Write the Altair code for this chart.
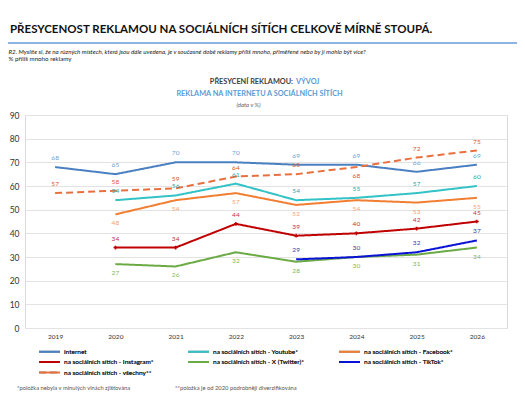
import altair as alt
import pandas as pd

FONT = "Lato"

years = [2019, 2020, 2021, 2022, 2023, 2024, 2025, 2026]
series_names = [
    "internet",
    "na sociálních sítích - Youtube*",
    "na sociálních sítích - Facebook*",
    "na sociálních sítích - Instagram*",
    "na sociálních sítích - X (Twitter)*",
    "na sociálních sítích - TikTok*",
    "na sociálních sítích - všechny**",
]
internet = [68, 65, 70, 70, 69, 69, 66, 69]
youtube = [None, 54, 56, 61, 54, 55, 57, 60]
facebook = [None, 48, 54, 57, 52, 54, 53, 55]
instagram = [None, 34, 34, 44, 39, 40, 42, 45]
twitter = [None, 27, 26, 32, 28, 30, 31, 34]
tiktok = [None, None, None, None, 29, 30, 32, 37]
vsechny = [57, 58, 59, 64, 65, 68, 72, 75]
y_ticks = [0, 10, 20, 30, 40, 50, 60, 70, 80, 90]

line_colors = ["#4A7FC0", "#33C2C6", "#F07E33", "#C00000", "#6BAA45", "#0A12D6", "#E8703F"]
label_colors = ["#6C9FD8", "#2AA3A3", "#F3A06C", "#C0304A", "#7DB85A", "#3A3AA8", "#D9542C"]
dashes = [[1, 0], [1, 0], [1, 0], [1, 0], [1, 0], [1, 0], [7, 4]]

all_values = [internet, youtube, facebook, instagram, twitter, tiktok, vsechny]
rows = []
for name, vals in zip(series_names, all_values):
    for yr, v in zip(years, vals):
        if v is not None:
            rows.append({"rok": str(yr), "serie": name, "hodnota": v})
df = pd.DataFrame(rows)

year_labels = [str(y) for y in years]
x_enc = alt.X("rok:O", scale=alt.Scale(type="point", padding=0.5, domain=year_labels),
              axis=alt.Axis(title=None, labelAngle=0, ticks=False, domain=False,
                            labelFontSize=6.5, labelColor="#333", labelPadding=5, labelFont=FONT))
y_enc = alt.Y("hodnota:Q", scale=alt.Scale(domain=[0, 90], nice=False),
              axis=alt.Axis(title=None, values=y_ticks, ticks=False, domain=False,
                            labelFontSize=8.5, labelColor="#333", labelPadding=6,
                            gridColor="#E3E3E3", labelFont=FONT))

legend = alt.Legend(orient="none", legendX=13, legendY=232, columns=3, columnPadding=30,
                    direction="horizontal", rowPadding=1.5, symbolType="M-1,0H5", symbolSize=49,
                    symbolStrokeWidth=2, labelFontSize=6.5, labelFont=FONT, labelColor="#222",
                    title=None, labelLimit=0, labelOffset=17)

base = alt.Chart(df)

lines = base.mark_line(strokeWidth=2).encode(
    x=x_enc, y=y_enc,
    color=alt.Color("serie:N", scale=alt.Scale(domain=series_names, range=line_colors), legend=legend),
    strokeDash=alt.StrokeDash("serie:N", scale=alt.Scale(domain=series_names, range=dashes), legend=legend),
)

marks = base.transform_filter(alt.datum.serie == series_names[3]).mark_point(
    shape="cross", filled=True, size=14, color="#C00000", opacity=1
).encode(x=x_enc, y=y_enc)

below = ((alt.datum.serie == series_names[2]) | (alt.datum.serie == series_names[4]) |
         ((alt.datum.serie == series_names[6]) & (alt.datum.rok == "2024")))

lab_color = alt.Color("serie:N", scale=alt.Scale(domain=series_names, range=label_colors), legend=None)

labels_above = base.transform_filter(~below).mark_text(dy=-9, fontSize=6.5, font=FONT).encode(
    x=x_enc, y=y_enc, text="hodnota:Q", color=lab_color)
labels_below = base.transform_filter(below).mark_text(dy=9, fontSize=6.5, font=FONT).encode(
    x=x_enc, y=y_enc, text="hodnota:Q", color=lab_color)


def txt(t, x, y, size, color="#222", weight="normal", style="normal", align="left"):
    return alt.Chart(pd.DataFrame({"t": [t]})).mark_text(
        align=align, baseline="middle", fontSize=size, fontWeight=weight, fontStyle=style,
        color=color, font=FONT
    ).encode(x=alt.value(x), y=alt.value(y), text="t:N")


rule = alt.Chart(pd.DataFrame({"a": [0]})).mark_rule(color="#8EB4E3", strokeWidth=2).encode(
    x=alt.value(-17), x2=alt.value(492), y=alt.value(-72))

texts = [
    txt("PŘESYCENOST REKLAMOU NA SOCIÁLNÍCH SÍTÍCH CELKOVĚ MÍRNĚ STOUPÁ.", -15, -85, 11.5, "#111", "bold"),
    txt("R2. Myslíte si, že na různých místech, která jsou dále uvedena, je v současné době reklamy příliš mnoho, přiměřené nebo by jí mohlo být více?",
        -16.5, -63, 6.2, "#222", style="italic"),
    txt("% příliš mnoho reklamy", -16.5, -56, 6.2, "#222"),
    txt("PŘESYCENÍ REKLAMOU:", 268, -33, 7.3, "#404040", "bold", align="right"),
    txt("VÝVOJ", 271, -33, 7.3, "#5B9BD5", "bold"),
    txt("REKLAMA NA INTERNETU A SOCIÁLNÍCH SÍTÍCH", 234.5, -21, 7.3, "#5B9BD5", "bold", align="center"),
    txt("(data v %)", 223.5, -10, 6, "#666", style="italic", align="center"),
    txt("*položka nebyla v minulých vlnách zjišťována", -8, 273, 5.8, "#555"),
    txt("**položka je od 2020 podrobněji diverzifikována", 150, 273, 5.8, "#555"),
]

chart = alt.layer(lines, marks, labels_above, labels_below, rule, *texts).resolve_scale(
    color="independent"
).properties(
    width=482, height=213, autosize=alt.AutoSizeParams(type="none"),
    padding={"left": 17, "top": 107, "right": 10, "bottom": 64},
    background="white",
).configure_view(stroke="#D9D9D9", strokeWidth=1)

chart.save("out.html", embed_options={"renderer": "svg", "actions": False})
